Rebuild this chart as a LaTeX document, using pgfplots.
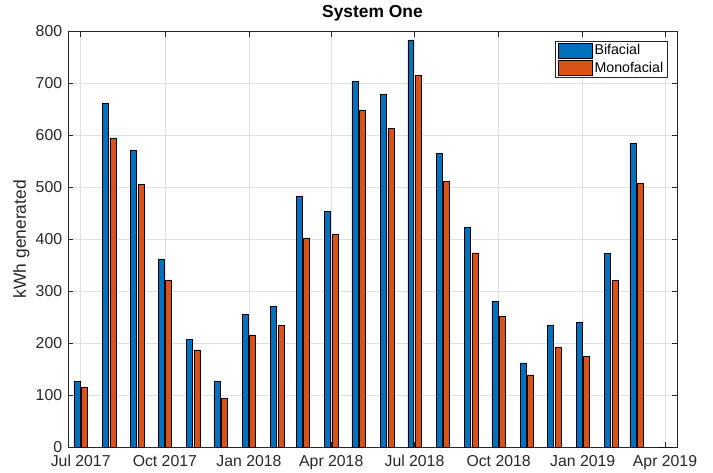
\documentclass[border=0pt]{standalone}
\usepackage{fontspec}
\setmainfont{Liberation Sans}
\usepackage{pgfplots}
\pgfplotsset{compat=1.18}
\definecolor{mblue}{RGB}{0,114,189}
\definecolor{morange}{RGB}{217,83,25}
\definecolor{axgray}{rgb}{0.15,0.15,0.15}
\definecolor{gridgray}{RGB}{223,223,223}
\pgfplotsset{barlegend/.style={legend image code/.code={\draw[##1] (0pt,-7.4pt) rectangle (34pt,7.4pt);}}}
\begin{document}
\begin{tikzpicture}
\begin{axis}[
 scale only axis, width=609pt, height=415.5pt,
 at={(0pt,0pt)}, anchor=south west,
 xmin=-13.9, xmax=652.1, ymin=0, ymax=800,
 xtick={0,92,184,274,365,457,549,639},
 xticklabels={Jul 2017, Oct 2017, Jan 2018, Apr 2018, Jul 2018, Oct 2018, Jan 2019, Apr 2019},
 ytick={0,100,...,800},
 grid=major, major grid style={gridgray, line width=0.6pt},
 tick align=inside, major tick length=5pt,
 tick style={axgray, line width=0.6pt},
 axis line style={axgray, line width=0.6pt},
 tick label style={font=\fontsize{15.8}{18}\selectfont, text=axgray},
 /pgf/number format/assume math mode=true,
 yticklabel style={inner sep=0pt, anchor=east, xshift=-5.7pt},
 xticklabel style={inner sep=0pt, anchor=north, yshift=-8pt},
 ylabel={kWh generated},
 ylabel style={font=\fontsize{17.4}{20}\selectfont, text=axgray, at={(axis description cs:0,0.5)}, anchor=center, yshift=46.5pt},
 title={\textbf{System One}},
 title style={font=\fontsize{17.4}{20}\selectfont, at={(axis description cs:0.5,1)}, anchor=base, yshift=7.8pt, inner sep=0pt},
 legend style={at={(axis description cs:1,1)}, anchor=north east, xshift=-9.7pt, yshift=-9.4pt, draw=axgray, line width=0.6pt, fill=white, inner xsep=2.3pt, inner ysep=1.5pt, font=\fontsize{14.2}{16}\selectfont, nodes={inner sep=1.5pt}, row sep=2pt, column sep=1pt, cells={anchor=west}},
]
\addplot[ybar, bar width=6.5, bar shift=-4.1, fill=mblue, draw=black, line width=0.5pt, barlegend] coordinates {
(0,127) (31,662) (62,571) (92,362) (123,207) (153,126) (184,256) (215,271) (243,482) (274,454) (304,704) (335,679) (365,784) (396,565) (427,424) (457,281) (488,162) (518,235) (549,240) (580,373) (608,584) (639,0)
};
\addlegendentry{Bifacial}
\addplot[ybar, bar width=6.5, bar shift=4.1, fill=morange, draw=black, line width=0.5pt, barlegend] coordinates {
(0,115) (31,595) (62,505) (92,322) (123,187) (153,93) (184,216) (215,234) (243,402) (274,409) (304,649) (335,614) (365,715) (396,512) (427,374) (457,252) (488,139) (518,192) (549,174) (580,321) (608,508) (639,0)
};
\addlegendentry{Monofacial}
\end{axis}
\pgfresetboundingbox
\path[use as bounding box] (-68pt,-25pt) rectangle (645pt,447pt);
\end{tikzpicture}
\end{document}
